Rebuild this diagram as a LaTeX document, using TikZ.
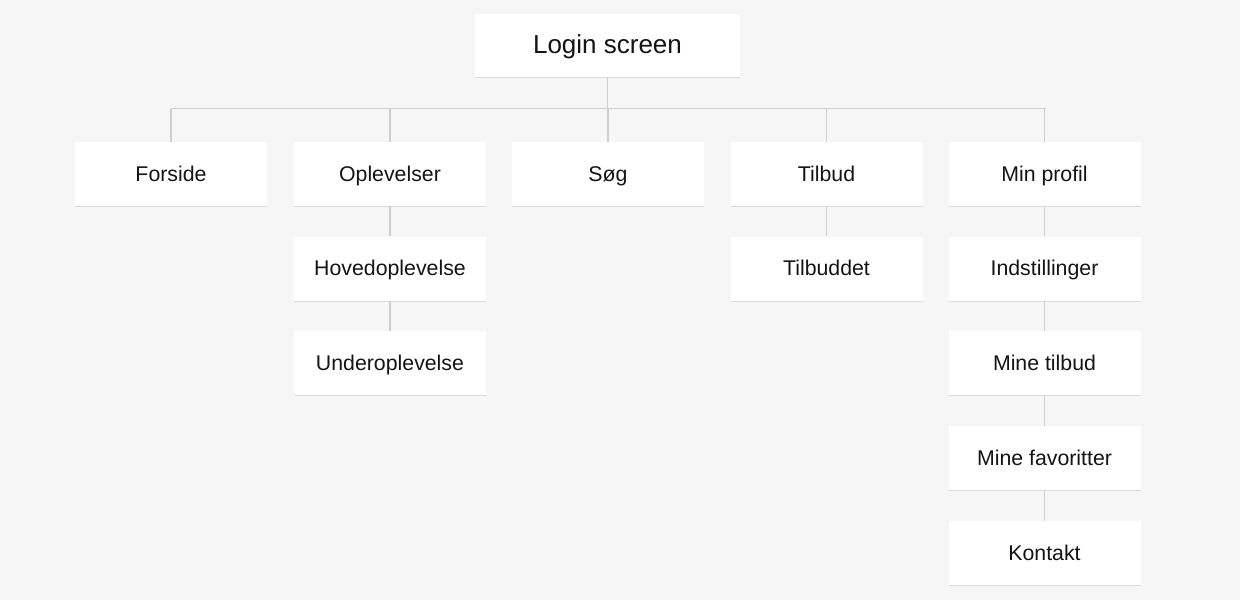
\documentclass[tikz,border=0pt]{standalone}
\usepackage{fontspec}
\setmainfont{Liberation Sans}
\usetikzlibrary{shadows}
\definecolor{bgc}{HTML}{F6F6F6}
\definecolor{linec}{HTML}{CFCFCF}
\definecolor{txtc}{HTML}{141414}
\begin{document}
\begin{tikzpicture}[x=1pt,y=-1pt,
  box/.style={fill=white, draw=none, minimum width=192pt, minimum height=64pt, inner sep=0pt,
    text=txtc, font=\fontsize{21.3}{24}\selectfont, text height=17pt, text depth=3pt,
    drop shadow={shadow xshift=0pt, shadow yshift=-1.2pt, opacity=0.10, fill=black}},
  rootbox/.style={box, minimum width=265pt, minimum height=63pt,
    font=\fontsize{26}{30}\selectfont, text height=20.5pt, text depth=4pt},
  conn/.style={draw=linec, line width=1.2pt}]
\fill[bgc] (0,0) rectangle (1240,600);
\useasboundingbox (0,0) rectangle (1240,600);
\node[rootbox] (root) at (607.5,45.5) {Login screen};
\node[box] (forside) at (171,174) {Forside};
\node[box] (opl) at (390,174) {Oplevelser};
\node[box] (soeg) at (608,174) {Søg};
\node[box] (tilbud) at (826.5,174) {Tilbud};
\node[box] (profil) at (1044.5,174) {Min profil};
\node[box] (hoved) at (390,268.5) {Hovedoplevelse};
\node[box] (under) at (390,363) {Underoplevelse};
\node[box] (tilbuddet) at (826.5,268.5) {Tilbuddet};
\node[box] (indst) at (1044.5,268.5) {Indstillinger};
\node[box] (minetilbud) at (1044.5,363) {Mine tilbud};
\node[box] (favor) at (1044.5,458) {Mine favoritter};
\node[box] (kontakt) at (1044.5,553) {Kontakt};
\coordinate (busL) at (171,108.5);
\coordinate (busR) at (1045.5,108.5);
\draw[conn] (busL) -- (busR);
\draw[conn] (root.south) -- (root.south |- busL);
\foreach \n in {forside,opl,soeg,tilbud,profil}{
  \draw[conn] (\n.north) -- (\n.north |- busL);
}
\draw[conn] (opl.south) -- (hoved.north);
\draw[conn] (hoved.south) -- (under.north);
\draw[conn] (tilbud.south) -- (tilbuddet.north);
\draw[conn] (profil.south) -- (indst.north);
\draw[conn] (indst.south) -- (minetilbud.north);
\draw[conn] (minetilbud.south) -- (favor.north);
\draw[conn] (favor.south) -- (kontakt.north);
\end{tikzpicture}
\end{document}
